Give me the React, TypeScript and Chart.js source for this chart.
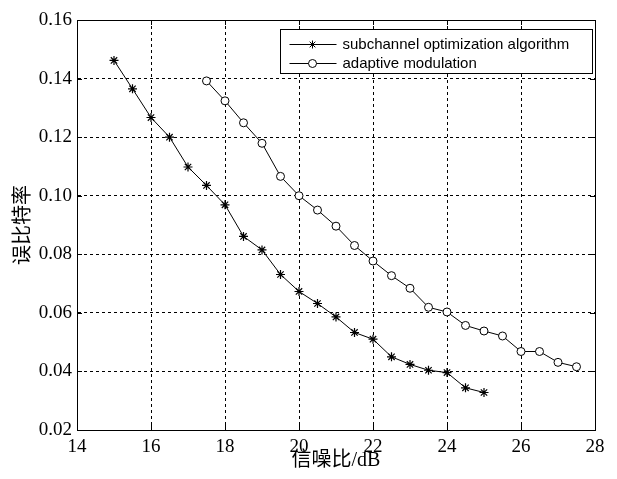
import React, { useEffect, useRef } from "react";
import { Chart, registerables } from "chart.js";

Chart.register(...registerables);

const seriesNames = ["subchannel optimization algorithm", "adaptive modulation"];
const snrSub = [15, 15.5, 16, 16.5, 17, 17.5, 18, 18.5, 19, 19.5, 20, 20.5, 21, 21.5, 22, 22.5, 23, 23.5, 24, 24.5, 25];
const berSub = [0.1462, 0.1365, 0.1267, 0.12, 0.1098, 0.1035, 0.0969, 0.0861, 0.0815, 0.0731, 0.0673, 0.0632, 0.0586, 0.0533, 0.051, 0.045, 0.0424, 0.0404, 0.0396, 0.0344, 0.0328];
const snrAdp = [17.5, 18, 18.5, 19, 19.5, 20, 20.5, 21, 21.5, 22, 22.5, 23, 23.5, 24, 24.5, 25, 25.5, 26, 26.5, 27, 27.5];
const berAdp = [0.1392, 0.1324, 0.1249, 0.1179, 0.1066, 0.1, 0.0951, 0.0896, 0.083, 0.0777, 0.0727, 0.0684, 0.0619, 0.0603, 0.0557, 0.0538, 0.0521, 0.0468, 0.0468, 0.0431, 0.0416];
const xTicks = [14, 16, 18, 20, 22, 24, 26, 28];
const yTicks = [0.02, 0.04, 0.06, 0.08, 0.1, 0.12, 0.14, 0.16];
const xTitle = "信噪比/dB";
const yTitle = "误比特率";

const serif = "'Liberation Serif', 'Noto Sans CJK SC', serif";

const framePlugin = {
  id: "frame",
  beforeDatasetsDraw(chart: any) {
    const { ctx, chartArea: a, scales } = chart;
    ctx.save();
    ctx.strokeStyle = "#000";
    ctx.lineWidth = 1;
    ctx.setLineDash([]);
    ctx.beginPath();
    const tl = 5;
    for (const v of xTicks) {
      const x = Math.round(scales.x.getPixelForValue(v)) + 0.5;
      ctx.moveTo(x, a.bottom);
      ctx.lineTo(x, a.bottom - tl);
      ctx.moveTo(x, a.top);
      ctx.lineTo(x, a.top + tl);
    }
    for (const v of yTicks) {
      const y = Math.round(scales.y.getPixelForValue(v)) + 0.5;
      ctx.moveTo(a.left, y);
      ctx.lineTo(a.left + tl, y);
      ctx.moveTo(a.right, y);
      ctx.lineTo(a.right - tl, y);
    }
    ctx.stroke();
    ctx.strokeRect(Math.round(a.left) + 0.5, Math.round(a.top) + 0.5, Math.round(a.right - a.left), Math.round(a.bottom - a.top));
    ctx.restore();
  },
  afterDraw(chart: any) {
    const { ctx, chartArea: a } = chart;
    const bx = Math.round(a.right) - 2.5;
    const by = Math.round(a.top) + 9.5;
    const bw = 312;
    const bh = 44;
    ctx.save();
    ctx.fillStyle = "#fff";
    ctx.fillRect(bx - bw, by, bw, bh);
    ctx.strokeStyle = "#000";
    ctx.lineWidth = 1;
    ctx.strokeRect(bx - bw, by, bw, bh);
    const left = bx - bw;
    chart.data.datasets.forEach((ds: any, i: number) => {
      const y = Math.round(by + 14 + i * 19) + 0.5;
      ctx.beginPath();
      ctx.moveTo(left + 9, y);
      ctx.lineTo(left + 56, y);
      ctx.stroke();
      const mx = left + 32;
      ctx.beginPath();
      if (ds.pointStyle === "star") {
        const r = 4;
        for (let k = 0; k < 4; k++) {
          const ang = (k * Math.PI) / 4;
          ctx.moveTo(mx - r * Math.cos(ang), y - r * Math.sin(ang));
          ctx.lineTo(mx + r * Math.cos(ang), y + r * Math.sin(ang));
        }
        ctx.stroke();
      } else {
        ctx.arc(mx, y, 4, 0, Math.PI * 2);
        ctx.fillStyle = "#fff";
        ctx.fill();
        ctx.stroke();
      }
      ctx.fillStyle = "#000";
      ctx.font = "15px 'Liberation Sans', Arial, sans-serif";
      ctx.textBaseline = "middle";
      ctx.textAlign = "left";
      ctx.fillText(seriesNames[i], left + 62, y);
    });
    ctx.restore();
  },
};

export default function App() {
  const ref = useRef<HTMLCanvasElement>(null);
  useEffect(() => {
    if (!ref.current) return;
    const chart = new Chart(ref.current, {
      type: "line",
      data: {
        datasets: [
          {
            label: seriesNames[0],
            data: snrSub.map((x, i) => ({ x, y: berSub[i] })),
            borderColor: "#000",
            borderWidth: 1,
            backgroundColor: "#000",
            pointStyle: "star",
            pointRadius: 4.5,
            pointBorderWidth: 1.2,
            pointBorderColor: "#000",
            tension: 0,
          },
          {
            label: seriesNames[1],
            data: snrAdp.map((x, i) => ({ x, y: berAdp[i] })),
            borderColor: "#000",
            borderWidth: 1,
            backgroundColor: "#fff",
            pointStyle: "circle",
            pointRadius: 4,
            pointBorderWidth: 1,
            pointBorderColor: "#000",
            pointBackgroundColor: "#fff",
            tension: 0,
          },
        ],
      },
      options: {
        animation: false,
        responsive: false,
        maintainAspectRatio: false,
        layout: { padding: { top: 20, right: 22, left: 0, bottom: 0 } },
        plugins: { legend: { display: false }, tooltip: { enabled: false } },
        scales: {
          x: {
            type: "linear",
            min: 14,
            max: 28,
            afterBuildTicks: (s: any) => {
              s.ticks = xTicks.map((v) => ({ value: v }));
            },
            afterFit: (s: any) => {
              s.height = 49;
            },
            ticks: {
              color: "#000",
              font: { family: serif, size: 19 },
              padding: 6,
              maxRotation: 0,
              autoSkip: false,
            },
            grid: {
              color: "#000",
              lineWidth: 1,
              drawTicks: false,
            },
            border: { display: true, color: "#000", width: 1, dash: [3, 3] },
            title: {
              display: true,
              text: xTitle,
              color: "#000",
              font: { family: serif, size: 20 },
              padding: { top: 0, bottom: 6 },
            },
          },
          y: {
            type: "linear",
            min: 0.02,
            max: 0.16,
            afterBuildTicks: (s: any) => {
              s.ticks = yTicks.map((v) => ({ value: v }));
            },
            afterFit: (s: any) => {
              s.width = 77;
            },
            ticks: {
              color: "#000",
              font: { family: serif, size: 19 },
              padding: 5,
              autoSkip: false,
              callback: (v: any) => Number(v).toFixed(2),
            },
            grid: {
              color: "#000",
              lineWidth: 1,
              drawTicks: false,
            },
            border: { display: true, color: "#000", width: 1, dash: [3, 3] },
            title: {
              display: true,
              text: yTitle,
              color: "#000",
              font: { family: serif, size: 20 },
              padding: { top: 12, bottom: 0 },
            },
          },
        },
      },
      plugins: [framePlugin],
    } as any);
    return () => chart.destroy();
  }, []);
  return (
    <div style={{ position: "fixed", left: 0, top: 0, width: 617, height: 479, background: "#fff" }}>
      <canvas ref={ref} width={617} height={479} style={{ width: 617, height: 479 }} />
    </div>
  );
}
